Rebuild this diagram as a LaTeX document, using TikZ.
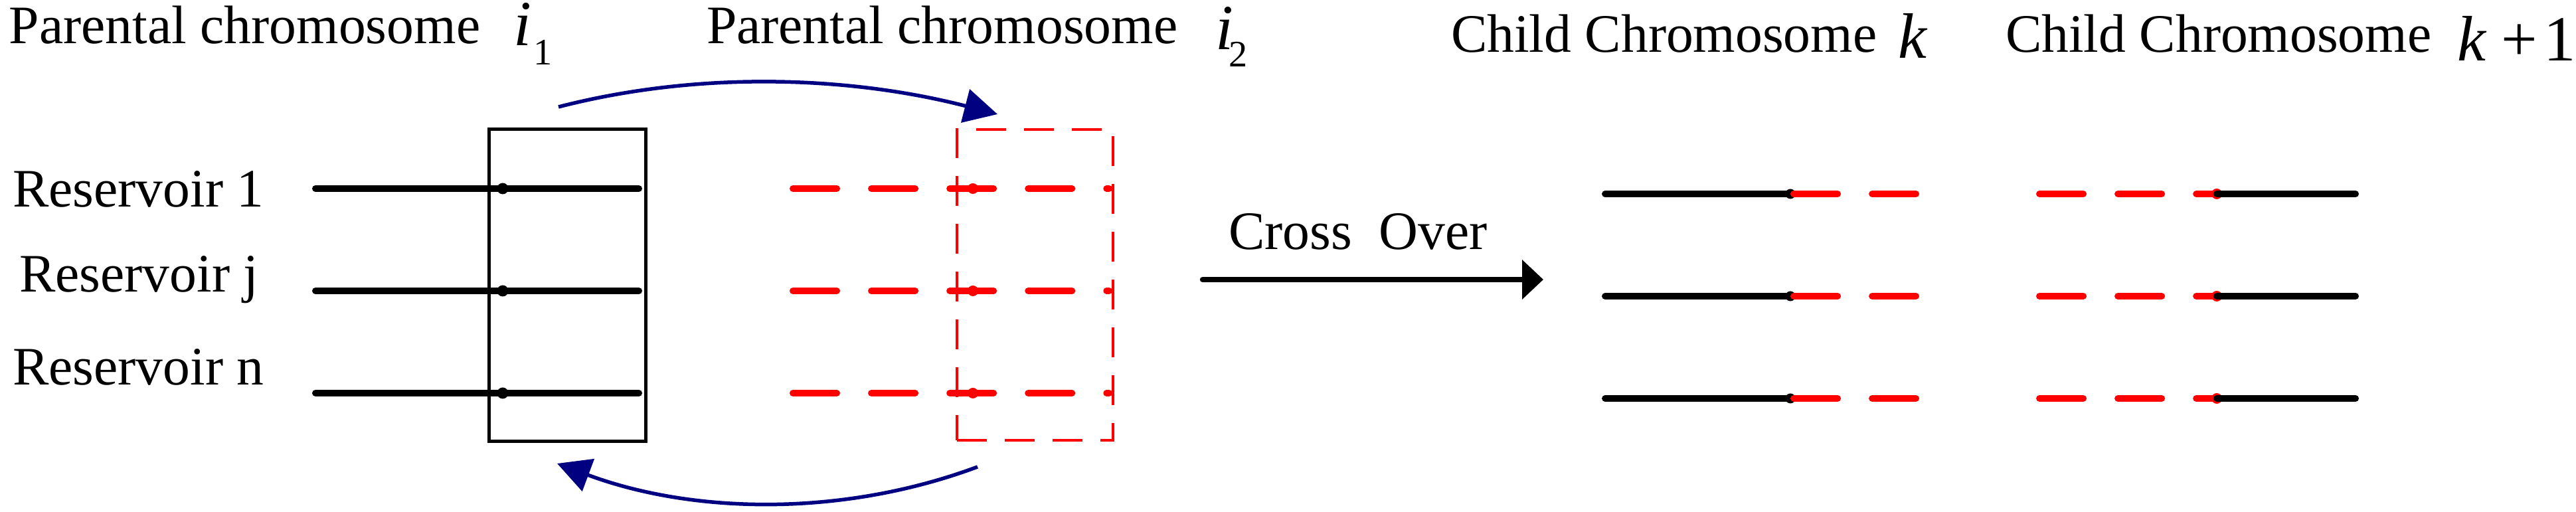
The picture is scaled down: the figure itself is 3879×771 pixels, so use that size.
\documentclass[tikz,border=0pt]{standalone}
\usepackage{fontspec}
\setmainfont{Liberation Serif}
\newfontfamily\itfam{Liberation Serif Italic}
\usetikzlibrary{arrows.meta}
\definecolor{navyarrow}{RGB}{0,0,128}
\definecolor{purered}{RGB}{255,0,0}
\begin{document}
\begin{tikzpicture}[x=0.01cm,y=-0.01cm,
  lbl/.style={anchor=base west, inner sep=0pt, outer sep=0pt, font=\fontsize{23.2}{27}\selectfont},
  mth/.style={anchor=base west, inner sep=0pt, outer sep=0pt, font=\fontsize{27.5}{30}\selectfont},
  blk/.style={line width=0.1cm, line cap=round, black},
  redd/.style={line width=0.1cm, line cap=round, purered, dash pattern=on 0.66cm off 0.52cm},
  blkdot/.style={circle, fill=black, inner sep=0pt, minimum size=0.17cm},
  reddot/.style={circle, fill=purered, inner sep=0pt, minimum size=0.16cm},
  boxone/.style={draw=black, line width=0.05cm, minimum width=2.35cm, minimum height=4.69cm, inner sep=0pt},
  boxtwo/.style={draw=purered, line width=0.04cm, dash pattern=on 0.45cm off 0.27cm, minimum width=2.35cm, minimum height=4.68cm, inner sep=0pt},
  bluearr/.style={navyarrow, line width=0.055cm, -{Triangle[length=0.5cm,width=0.51cm]}},
  crossarr/.style={black, line width=0.085cm, line cap=round, -{Triangle[length=0.32cm,width=0.58cm]}}
]
\useasboundingbox (0,0) rectangle (3879,771);

% titles
\node[lbl] (t1) at (14,66) {Parental chromosome};
\node[mth] (m1) at (773,69) {{\itfam i}\kern0.04cm\raisebox{-0.29cm}{\fontsize{16}{16}\selectfont 1}};
\node[lbl] (t2) at (1064,66) {Parental chromosome};
\node[mth] (m2) at (1830,75) {{\itfam i}\kern-0.06cm\raisebox{-0.25cm}{\fontsize{16}{16}\selectfont 2}};
\node[lbl] (t3) at (2185,79) {Child Chromosome};
\node[mth] (m3) at (2858,88) {{\itfam k}};
\node[lbl] (t4) at (3020,79) {Child Chromosome};
\node[mth] (m4) at (3700,92) {{\itfam k}\kern0.24cm+\kern0.09cm1};

% reservoir labels
\node[lbl] (r1) at (19,312) {Reservoir 1};
\node[lbl] (rj) at (29,440) {Reservoir j};
\node[lbl] (rn) at (19,580) {Reservoir n};

% boxes
\node[boxone] (box1) at (854.5,429.5) {};
\node[boxtwo] (box2) at (1558.5,429) {};

% parent rows
\foreach \n/\y in {1/284,2/438,3/592}{
  \coordinate (pa\n) at (475,\y);
  \coordinate (pb\n) at (962,\y);
  \draw[blk] (pa\n) -- (pb\n);
  \node[blkdot] (pd\n) at (757,\y) {};
  \coordinate (qa\n) at (1194,\y);
  \coordinate (qb\n) at (1670,\y);
  \draw[redd] (qa\n) -- (qb\n);
  \node[reddot] (qd\n) at (1465,\y) {};
}

% child rows
\foreach \n/\y in {1/292,2/446,3/600}{
  \coordinate (ka\n) at (2417,\y);
  \coordinate (kd\n) at (2696,\y);
  \coordinate (kr\n) at (2701,\y);
  \coordinate (kb\n) at (2885,\y);
  \draw[blk] (ka\n) -- (kd\n);
  \node[blkdot, minimum size=0.15cm] (kdot\n) at (kd\n) {};
  \draw[redd] (kr\n) -- (kb\n);
  \coordinate (la\n) at (3071,\y);
  \coordinate (ld\n) at (3338,\y);
  \coordinate (lb\n) at (3547,\y);
  \draw[redd] (la\n) -- (ld\n);
  \node[reddot] (ldot\n) at (ld\n) {};
  \draw[blk] (ld\n) -- (lb\n);
}

% swap arrows
\coordinate (ta) at (841,161);
\coordinate (tb) at (1502,172);
\draw[bluearr] (ta) .. controls (1058,105) and (1285,116) .. (tb);
\coordinate (ba) at (1472,703);
\coordinate (bb) at (839,698);
\draw[bluearr] (ba) .. controls (1268,779) and (1043,774) .. (bb);

% cross over
\node[lbl] (co) at (1850,376) {Cross~~Over};
\coordinate (cs) at (1811,421);
\coordinate (ce) at (2324,421);
\draw[crossarr] (cs) -- (ce);
\end{tikzpicture}
\end{document}
